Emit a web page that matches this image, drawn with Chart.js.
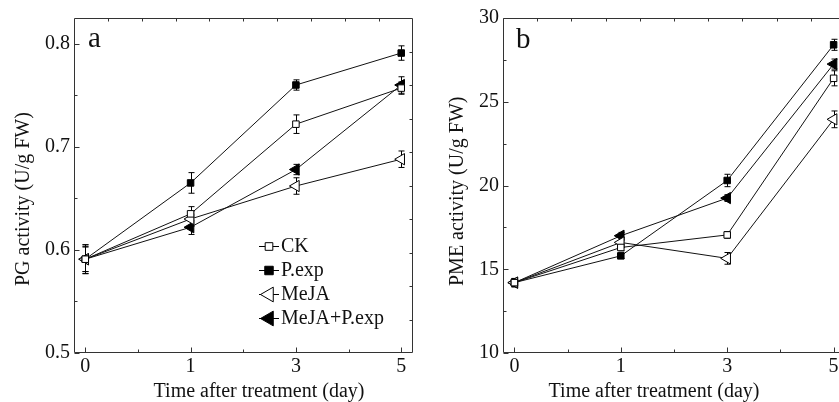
<!DOCTYPE html>
<html>
<head>
<meta charset="utf-8">
<script src="https://cdn.jsdelivr.net/npm/chart.js@4.4.1/dist/chart.umd.min.js"></script>
<style>
  html, body { margin: 0; padding: 0; background: #fff; overflow: hidden; }
  #wrap { position: relative; width: 839px; height: 402px; overflow: hidden; }
  #ca { position: absolute; left: 0; top: 0; }
  #cb { position: absolute; left: 420px; top: 0; }
</style>
</head>
<body>
<div id="wrap">
  <canvas id="ca" width="420" height="402"></canvas>
  <canvas id="cb" width="440" height="402"></canvas>
</div>
<script>
// ---------- data ----------
const days = ['0', '1', '3', '5'];
const seriesNames = ['CK', 'P.exp', 'MeJA', 'MeJA+P.exp'];

// Panel a: PG activity (U/g FW)
const pgCK      = [0.591, 0.635, 0.722, 0.757];
const pgPexp    = [0.591, 0.665, 0.760, 0.791];
const pgMeJA    = [0.591, 0.630, 0.662, 0.688];
const pgMeJAP   = [0.591, 0.622, 0.678, 0.760];
const pgErrCK    = [0.012, 0.007, 0.009, 0.006];
const pgErrPexp  = [0.014, 0.010, 0.005, 0.007];
const pgErrMeJA  = [0.012, 0.007, 0.008, 0.008];
const pgErrMeJAP = [0.014, 0.007, 0.005, 0.008];
const pgTicks = [0.5, 0.6, 0.7, 0.8];

// Panel b: PME activity (U/g FW)
const pmeCK     = [14.2, 16.3, 17.05, 26.4];
const pmePexp   = [14.2, 15.8, 20.3, 28.4];
const pmeMeJA   = [14.2, 16.6, 15.65, 23.95];
const pmeMeJAP  = [14.2, 17.0, 19.25, 27.25];
const pmeErrCK    = [0.2, 0.2, 0.2, 0.45];
const pmeErrPexp  = [0.25, 0.15, 0.37, 0.33];
const pmeErrMeJA  = [0.2, 0.3, 0.35, 0.5];
const pmeErrMeJAP = [0.25, 0.2, 0.2, 0.3];
const pmeTicks = [10, 15, 20, 25, 30];

// ---------- styling ----------
const FONT = 'Liberation Serif, "Times New Roman", serif';
const INK = '#111';
const AXIS = '#333';

const styles = [
  { pointStyle: 'rect', rotation: 0, fill: '#fff', r: 4.6, lr: 5.4 },
  { pointStyle: 'rect', rotation: 0, fill: '#000', r: 4.6, lr: 6.0 },
  { pointStyle: 'triangle', rotation: -90, fill: '#fff', r: 6.5, lr: 8.5 },
  { pointStyle: 'triangle', rotation: -90, fill: '#000', r: 6.5, lr: 8.5 }
];

function makeDatasets(vals, errs) {
  return vals.map((arr, i) => ({
    label: seriesNames[i],
    data: arr.map((v, k) => ({ x: k, y: v })),
    errors: errs[i],
    borderColor: INK,
    borderWidth: 1,
    tension: 0,
    fill: false,
    pointStyle: styles[i].pointStyle,
    pointRotation: styles[i].rotation,
    pointRadius: styles[i].r,
    pointHoverRadius: styles[i].r,
    pointBackgroundColor: styles[i].fill,
    pointBorderColor: '#000',
    pointBorderWidth: 1
  }));
}

// error bars plugin (drawn beneath markers)
const errorBars = {
  id: 'errorBars',
  beforeDatasetsDraw(chart) {
    const ctx = chart.ctx, xs = chart.scales.x, ys = chart.scales.y;
    ctx.save();
    ctx.strokeStyle = '#000';
    ctx.lineWidth = 1;
    chart.data.datasets.forEach(ds => {
      ds.data.forEach((p, k) => {
        const e = ds.errors[k];
        const x = Math.round(xs.getPixelForValue(p.x)) + 0.5;
        const y1 = ys.getPixelForValue(p.y + e);
        const y2 = ys.getPixelForValue(p.y - e);
        ctx.beginPath();
        ctx.moveTo(x, y1); ctx.lineTo(x, y2);
        ctx.moveTo(x - 3, y1); ctx.lineTo(x + 3, y1);
        ctx.moveTo(x - 3, y2); ctx.lineTo(x + 3, y2);
        ctx.stroke();
      });
    });
    ctx.restore();
  }
};

// frame, inward ticks, titles, panel letter
function framePlugin(cfg) {
  return {
    id: 'frame',
    afterDraw(chart) {
      const ctx = chart.ctx, a = chart.chartArea;
      const xs = chart.scales.x, ys = chart.scales.y;
      ctx.save();
      ctx.strokeStyle = AXIS;
      ctx.lineWidth = 1;
      const L = Math.round(a.left) + 0.5, R = Math.round(a.right) - 0.5;
      const T = Math.round(a.top) + 0.5, B = Math.round(a.bottom) - 0.5;
      ctx.beginPath();
      ctx.moveTo(L, T); ctx.lineTo(R, T); ctx.lineTo(R, B); ctx.lineTo(L, B); ctx.closePath();
      ctx.stroke();
      ctx.beginPath();
      // bottom ticks (major + minor)
      [0, 1, 2, 3].forEach(v => {
        const x = Math.round(xs.getPixelForValue(v)) + 0.5;
        ctx.moveTo(x, B); ctx.lineTo(x, B - 5);
      });
      [0.5, 1.5, 2.5].forEach(v => {
        const x = Math.round(xs.getPixelForValue(v)) + 0.5;
        ctx.moveTo(x, B); ctx.lineTo(x, B - 3);
      });
      // left ticks
      const yt = cfg.yTicks;
      yt.forEach((v, i) => {
        const y = Math.round(ys.getPixelForValue(v)) + 0.5;
        ctx.moveTo(L, y); ctx.lineTo(L + 5, y);
        if (i < yt.length - 1) {
          const ym = Math.round(ys.getPixelForValue((v + yt[i + 1]) / 2)) + 0.5;
          ctx.moveTo(L, ym); ctx.lineTo(L + 3, ym);
        }
      });
      // top & right small ticks
      const w = a.right - a.left, h = a.bottom - a.top;
      for (let k = 1; k < 10; k++) {
        const x = Math.round(a.left + k * w / 10) + 0.5;
        ctx.moveTo(x, T); ctx.lineTo(x, T + 3);
        const y = Math.round(a.top + k * h / 10) + 0.5;
        ctx.moveTo(R, y); ctx.lineTo(R - 3, y);
      }
      ctx.stroke();

      ctx.fillStyle = INK;
      // panel letter
      ctx.font = '29px ' + FONT;
      ctx.textAlign = 'left';
      ctx.textBaseline = 'alphabetic';
      ctx.fillText(cfg.letter, cfg.letterX, cfg.letterY);
      // x title
      ctx.font = '20px ' + FONT;
      ctx.textAlign = 'center';
      ctx.fillText('Time after treatment (day)', cfg.xTitleX, 397);
      // y title
      ctx.save();
      ctx.translate(cfg.yTitleX, 286);
      ctx.rotate(-Math.PI / 2);
      ctx.textAlign = 'left';
      ctx.fillText(cfg.yTitle, 0, 0);
      ctx.restore();

      // legend
      if (cfg.legend) {
        chart.data.datasets.forEach((ds, i) => {
          const cy = 246 + i * 24;
          ctx.beginPath();
          ctx.moveTo(259, cy + 0.5); ctx.lineTo(279, cy + 0.5);
          ctx.strokeStyle = '#000';
          ctx.stroke();
          ctx.fillStyle = styles[i].fill;
          ctx.strokeStyle = '#000';
          ctx.lineWidth = 1;
          Chart.helpers.drawPoint(ctx, {
            pointStyle: styles[i].pointStyle,
            rotation: styles[i].rotation,
            radius: styles[i].lr,
            borderWidth: 1
          }, 269, cy + 0.5);
          ctx.fillStyle = INK;
          ctx.font = '20px ' + FONT;
          ctx.textAlign = 'left';
          ctx.textBaseline = 'alphabetic';
          ctx.fillText(ds.label, 281, cy + 6);
        });
      }
      ctx.restore();
    }
  };
}

function makeChart(canvasId, vals, errs, yMin, yMax, yTicks, yFmt, yAxisW, padRight, cfg) {
  return new Chart(document.getElementById(canvasId), {
    type: 'line',
    data: { datasets: makeDatasets(vals, errs) },
    options: {
      responsive: false,
      animation: false,
      devicePixelRatio: 1,
      layout: { padding: { left: 0, right: padRight, top: 18, bottom: 0 } },
      plugins: { legend: { display: false }, tooltip: { enabled: false } },
      scales: {
        x: {
          type: 'linear',
          min: -0.107, max: 3.107,
          afterBuildTicks: s => { s.ticks = days.map((d, i) => ({ value: i })); },
          afterFit: s => { s.height = 49; },
          ticks: {
            callback: (v, i) => days[i],
            font: { family: FONT, size: 20 },
            color: INK,
            padding: 2,
            maxRotation: 0
          },
          grid: { display: false, drawTicks: false },
          border: { display: false }
        },
        y: {
          type: 'linear',
          min: yMin, max: yMax,
          afterBuildTicks: s => { s.ticks = yTicks.map(v => ({ value: v })); },
          afterFit: s => { s.width = yAxisW; },
          ticks: {
            callback: yFmt,
            font: { family: FONT, size: 20 },
            color: INK,
            padding: 4
          },
          grid: { display: false, drawTicks: false },
          border: { display: false }
        }
      }
    },
    plugins: [errorBars, framePlugin(cfg)]
  });
}

makeChart('ca',
  [pgCK, pgPexp, pgMeJA, pgMeJAP],
  [pgErrCK, pgErrPexp, pgErrMeJA, pgErrMeJAP],
  0.5, 0.825, pgTicks, v => v.toFixed(1), 74, 6,
  { letter: 'a', letterX: 88, letterY: 47, xTitleX: 259, yTitleX: 29, yTitle: 'PG activity (U/g FW)', yTicks: pgTicks, legend: true });

makeChart('cb',
  [pmeCK, pmePexp, pmeMeJA, pmeMeJAP],
  [pmeErrCK, pmeErrPexp, pmeErrMeJA, pmeErrMeJAP],
  10, 30, pmeTicks, v => String(v), 83, 15,
  { letter: 'b', letterX: 96, letterY: 48, xTitleX: 234, yTitleX: 43, yTitle: 'PME activity (U/g FW)', yTicks: pmeTicks, legend: false });
</script>
</body>
</html>
